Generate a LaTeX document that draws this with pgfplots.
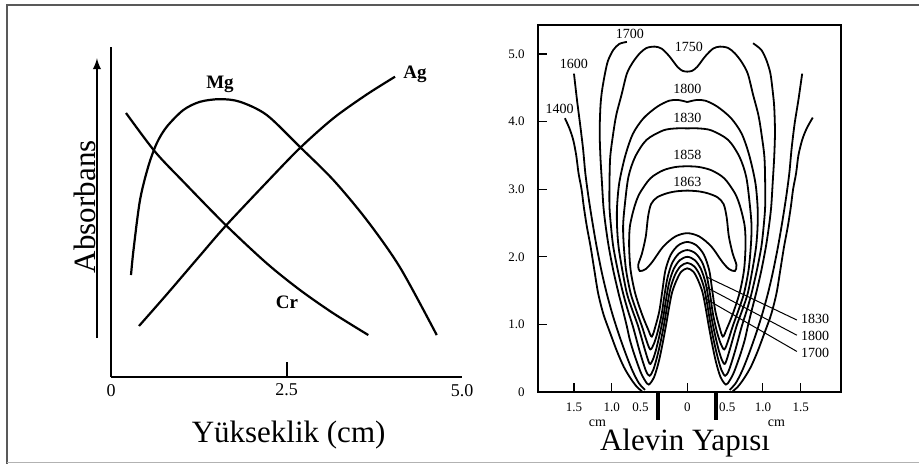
\documentclass[border=0pt]{standalone}
\usepackage{fontspec}
\setmainfont{Liberation Serif}
\usepackage{pgfplots}
\pgfplotsset{compat=1.18}

\pgfplotsset{
  contour/.style={black, line width=0.9pt, smooth, no markers},
  curve/.style={black, line width=1.1pt, smooth, no markers},
}

\begin{document}
\begin{tikzpicture}
\path[use as bounding box] (0,0) rectangle (459.5pt,-232pt);
\draw[line width=1.1pt, black!65] (3.4pt,-232pt) -- (3.4pt,-2.5pt) -- (459.5pt,-2.5pt);
\draw[line width=0.8pt, black!30] (3.4pt,-231.2pt) -- (459.5pt,-231.2pt);

% ---------- left: absorbance vs height
\begin{axis}[
  at={(55.5pt,-188.5pt)}, anchor=south west,
  width=175.5pt, height=165pt, scale only axis,
  xmin=0, xmax=5, ymin=0, ymax=5,
  axis x line=bottom, axis y line=left,
  axis line style={-, line width=1.1pt},
  xtick={2.5}, xticklabels={2.5},
  extra x ticks={0,5}, extra x tick labels={0,5.0},
  extra x tick style={major tick length=0pt},
  ytick=\empty,
  tick align=inside, major tick length=7.5pt,
  tick style={line width=1pt, black},
  ticklabel style={font=\fontsize{9}{9}\selectfont},
  /pgf/number format/assume math mode=true,
  clip=false,
]
% Mg
\addplot[curve] coordinates {
  (0.285,1.545) (0.32,1.92) (0.413,2.68) (0.531,3.19) (0.651,3.54) (0.793,3.79)
  (1.03,4.045) (1.268,4.17) (1.553,4.21) (1.838,4.17) (2.218,3.97) (2.692,3.485)
  (3.167,2.985) (3.642,2.38) (4.117,1.66) (4.64,0.636)
};
% Ag
\addplot[curve] coordinates {
  (0.399,0.773) (0.793,1.25) (1.268,1.84) (1.634,2.29) (2.218,2.95)
  (2.692,3.47) (3.167,3.92) (3.642,4.28) (4.046,4.55)
};
% Cr
\addplot[curve] coordinates {
  (0.214,4.0) (0.627,3.414) (1.03,2.96) (1.634,2.303) (2.218,1.723)
  (2.692,1.318) (3.167,0.965) (3.665,0.636)
};
\node[font=\bfseries\fontsize{9.5}{9.5}\selectfont] at (axis cs:1.553,4.44) {Mg};
\node[font=\bfseries\fontsize{9.5}{9.5}\selectfont] at (axis cs:4.33,4.59) {Ag};
\node[font=\bfseries\fontsize{9.5}{9.5}\selectfont] at (axis cs:2.507,1.136) {Cr};
% absorbance arrow
\draw[-latex, line width=0.9pt] (axis cs:-0.2,0.59) -- (axis cs:-0.2,4.83);
\node[rotate=90, anchor=south, inner sep=0.6pt, font=\fontsize{15.5}{15.5}\selectfont]
  at (axis cs:-0.2,2.58) {Absorbans};
\node[font=\fontsize{15.5}{15.5}\selectfont] at (axis cs:2.53,-0.88) {Yükseklik (cm)};
\end{axis}

% ---------- right: flame structure (temperature contours)
\begin{axis}[
  at={(268.85pt,-196pt)}, anchor=south west,
  width=151.5pt, height=183.5pt, scale only axis,
  xmin=-1.98, xmax=2.03, ymin=0, ymax=5.43,
  axis line style={line width=0.8pt},
  tick pos=left, tick align=inside, major tick length=4.5pt,
  tick style={line width=0.6pt, black},
  xtick={-1.5,-1,0,1,1.5}, xticklabels={1.5,1.0,0,1.0,1.5},
  extra x ticks={-0.62,0.53}, extra x tick labels={0.5,0.5},
  extra x tick style={major tick length=0pt},
  ytick={0,1,2,3,4,5}, yticklabels={0,1.0,2.0,3.0,4.0,5.0},
  ticklabel style={font=\fontsize{6.5}{6.5}\selectfont},
  yticklabel style={xshift=-3pt},
  xticklabel style={yshift=-2pt},
  /pgf/number format/assume math mode=true,
  clip=false,
]
% 1400
\addplot[contour] coordinates {
  (-1.62,4.05) (-1.56,3.90) (-1.51,3.73) (-1.47,3.50) (-1.44,3.24) (-1.40,3.00)
  (-1.37,2.74) (-1.33,2.45) (-1.28,2.15) (-1.23,1.80) (-1.18,1.46) (-1.11,1.15)
  (-1.02,0.87) (-0.93,0.60) (-0.84,0.37) (-0.75,0.20) (-0.67,0.08) (-0.60,0.01)
};
\addplot[contour] coordinates {
  (1.66,4.06) (1.58,3.90) (1.52,3.73) (1.47,3.50) (1.44,3.24) (1.40,3.00)
  (1.37,2.74) (1.33,2.45) (1.28,2.15) (1.23,1.80) (1.18,1.46) (1.11,1.15)
  (1.02,0.87) (0.93,0.60) (0.84,0.37) (0.75,0.20) (0.67,0.08) (0.60,0.01)
};
% 1600
\addplot[contour] coordinates {
  (-1.50,4.71) (-1.46,4.32) (-1.42,3.97) (-1.38,3.60) (-1.35,3.24) (-1.31,2.90)
  (-1.26,2.54) (-1.20,2.15) (-1.13,1.76) (-1.06,1.43) (-0.98,1.11) (-0.89,0.80)
  (-0.80,0.52) (-0.72,0.30) (-0.64,0.13) (-0.56,0.03)
};
\addplot[contour] coordinates {
  (1.52,4.71) (1.47,4.32) (1.42,3.97) (1.38,3.60) (1.35,3.24) (1.31,2.90)
  (1.26,2.54) (1.20,2.15) (1.13,1.76) (1.06,1.43) (0.98,1.11) (0.89,0.80)
  (0.80,0.52) (0.72,0.30) (0.64,0.13) (0.56,0.03)
};
% 1700
\addplot[contour] coordinates {
  (-0.80,5.18) (-0.90,5.15) (-0.98,5.06) (-1.05,4.90) (-1.09,4.71) (-1.13,4.45)
  (-1.15,4.22) (-1.16,3.85) (-1.15,3.48) (-1.13,3.10) (-1.11,2.74) (-1.08,2.45)
  (-1.04,2.15) (-0.98,1.80) (-0.91,1.46) (-0.85,1.20) (-0.80,0.97) (-0.76,0.77)
  (-0.70,0.55) (-0.62,0.30) (-0.56,0.17) (-0.51,0.11) (-0.44,0.22) (-0.38,0.44)
  (-0.33,0.70) (-0.28,1.00) (-0.24,1.26) (-0.20,1.48) (-0.14,1.66) (-0.08,1.78)
  (0,1.83) (0.08,1.78) (0.14,1.66) (0.20,1.48) (0.24,1.26) (0.28,1.00)
  (0.33,0.70) (0.38,0.44) (0.44,0.22) (0.51,0.11) (0.56,0.17) (0.62,0.30)
  (0.70,0.55) (0.76,0.77) (0.80,0.97) (0.85,1.20) (0.91,1.46) (0.98,1.80)
  (1.04,2.15) (1.08,2.45) (1.11,2.74) (1.13,3.10) (1.15,3.48) (1.16,3.85)
  (1.15,4.22) (1.13,4.45) (1.10,4.71) (1.05,4.90) (0.98,5.06) (0.87,5.16)
};
% 1750
\addplot[contour] coordinates {
  (0,4.74) (-0.06,4.75) (-0.13,4.81) (-0.24,4.97) (-0.34,5.08) (-0.43,5.11)
  (-0.54,5.09) (-0.63,5.01) (-0.72,4.88) (-0.80,4.71) (-0.87,4.40) (-0.94,4.10)
  (-0.98,3.83) (-1.02,3.48) (-1.03,3.10) (-1.03,2.74) (-1.01,2.45) (-0.98,2.15)
  (-0.92,1.80) (-0.85,1.46) (-0.79,1.22) (-0.72,0.97) (-0.63,0.60) (-0.55,0.32)
  (-0.50,0.24) (-0.45,0.33) (-0.40,0.52) (-0.35,0.76) (-0.30,1.05) (-0.26,1.32)
  (-0.22,1.55) (-0.16,1.74) (-0.09,1.86) (0,1.91) (0.09,1.86) (0.16,1.74)
  (0.22,1.55) (0.26,1.32) (0.30,1.05) (0.35,0.76) (0.40,0.52) (0.45,0.33)
  (0.50,0.24) (0.55,0.32) (0.63,0.60) (0.72,0.97) (0.79,1.22) (0.85,1.46)
  (0.92,1.80) (0.98,2.15) (1.01,2.45) (1.03,2.74) (1.03,3.10) (1.02,3.48)
  (0.98,3.83) (0.94,4.10) (0.87,4.40) (0.80,4.71) (0.72,4.88) (0.63,5.01)
  (0.54,5.09) (0.43,5.11) (0.34,5.08) (0.24,4.97) (0.13,4.81) (0.06,4.75) (0,4.74)
};
% 1800
\addplot[contour] coordinates {
  (0,4.29) (-0.12,4.32) (-0.24,4.31) (-0.40,4.22) (-0.58,4.05) (-0.72,3.82)
  (-0.82,3.50) (-0.90,3.10) (-0.93,2.74) (-0.93,2.45) (-0.91,2.15) (-0.86,1.80)
  (-0.80,1.46) (-0.73,1.22) (-0.65,0.97) (-0.56,0.62) (-0.50,0.42) (-0.46,0.47)
  (-0.42,0.60) (-0.37,0.83) (-0.32,1.10) (-0.28,1.38) (-0.24,1.62) (-0.18,1.82)
  (-0.10,1.95) (0,2.00) (0.10,1.95) (0.18,1.82) (0.24,1.62) (0.28,1.38)
  (0.32,1.10) (0.37,0.83) (0.42,0.60) (0.46,0.47) (0.50,0.42) (0.56,0.62)
  (0.65,0.97) (0.73,1.22) (0.80,1.46) (0.86,1.80) (0.91,2.15) (0.93,2.45)
  (0.93,2.74) (0.90,3.10) (0.82,3.50) (0.72,3.82) (0.58,4.05) (0.40,4.22)
  (0.24,4.31) (0.12,4.32) (0,4.29)
};
% 1830
\addplot[contour] coordinates {
  (0,3.90) (-0.15,3.90) (-0.32,3.87) (-0.54,3.73) (-0.69,3.48) (-0.78,3.18)
  (-0.83,2.74) (-0.85,2.45) (-0.84,2.15) (-0.81,1.80) (-0.75,1.46) (-0.68,1.22)
  (-0.60,0.97) (-0.54,0.76) (-0.49,0.63) (-0.44,0.72) (-0.39,0.90) (-0.34,1.15)
  (-0.30,1.45) (-0.26,1.70) (-0.20,1.91) (-0.11,2.05) (0,2.10) (0.11,2.05)
  (0.20,1.91) (0.26,1.70) (0.30,1.45) (0.34,1.15) (0.39,0.90) (0.44,0.72)
  (0.49,0.63) (0.54,0.76) (0.60,0.97) (0.68,1.22) (0.75,1.46) (0.81,1.80)
  (0.84,2.15) (0.85,2.45) (0.83,2.74) (0.78,3.18) (0.69,3.48) (0.54,3.73)
  (0.32,3.87) (0.15,3.90) (0,3.90)
};
% 1858
\addplot[contour] coordinates {
  (0,3.34) (-0.15,3.33) (-0.32,3.28) (-0.49,3.16) (-0.63,2.94) (-0.70,2.74)
  (-0.76,2.45) (-0.77,2.15) (-0.75,1.80) (-0.69,1.46) (-0.60,1.15) (-0.52,0.93)
  (-0.47,0.82) (-0.42,0.98) (-0.37,1.20) (-0.33,1.50) (-0.29,1.80) (-0.22,2.03)
  (-0.12,2.17) (0,2.22) (0.12,2.17) (0.22,2.03) (0.29,1.80) (0.33,1.50)
  (0.37,1.20) (0.42,0.98) (0.47,0.82) (0.52,0.93) (0.60,1.15) (0.69,1.46)
  (0.75,1.80) (0.77,2.15) (0.76,2.45) (0.70,2.74) (0.63,2.94) (0.49,3.16)
  (0.32,3.28) (0.15,3.33) (0,3.34)
};
% 1863
\addplot[contour] coordinates {
  (0,2.98) (-0.14,2.97) (-0.27,2.94) (-0.40,2.88) (-0.48,2.78) (-0.52,2.59)
  (-0.55,2.30) (-0.60,2.05) (-0.65,1.88) (-0.63,1.79) (-0.55,1.82) (-0.46,1.93)
  (-0.32,2.15) (-0.16,2.30) (0,2.35) (0.16,2.30) (0.32,2.15) (0.46,1.93)
  (0.55,1.82) (0.63,1.79) (0.65,1.88) (0.60,2.05) (0.55,2.30) (0.52,2.59)
  (0.48,2.78) (0.40,2.88) (0.27,2.94) (0.14,2.97) (0,2.98)
};
% burner walls
\addplot[black, line width=2pt, no markers] coordinates {(-0.39,0) (-0.39,-0.41)};
\addplot[black, line width=2pt, no markers] coordinates {(0.38,0) (0.38,-0.41)};
% leader lines
\draw[line width=0.5pt] (axis cs:0.26,1.70) -- (axis cs:1.45,1.065);
\draw[line width=0.5pt] (axis cs:0.25,1.55) -- (axis cs:1.45,0.84);
\draw[line width=0.5pt] (axis cs:0.21,1.40) -- (axis cs:1.45,0.60);
% labels
\begin{scope}[every node/.style={font=\fontsize{7}{7}\selectfont, inner sep=0.5pt}]
\node at (axis cs:-0.76,5.30) {1700};
\node at (axis cs:0.02,5.10) {1750};
\node at (axis cs:-1.50,4.86) {1600};
\node at (axis cs:-1.69,4.19) {1400};
\node at (axis cs:0,4.48) {1800};
\node at (axis cs:0,4.06) {1830};
\node at (axis cs:0,3.51) {1858};
\node at (axis cs:0,3.11) {1863};
\node at (axis cs:1.69,1.08) {1830};
\node at (axis cs:1.69,0.83) {1800};
\node at (axis cs:1.69,0.58) {1700};
\node at (axis cs:-1.19,-0.46) {cm};
\node at (axis cs:1.18,-0.46) {cm};
\end{scope}
\node[font=\fontsize{15.5}{15.5}\selectfont] at (axis cs:-0.03,-0.75) {Alevin Yapısı};
\end{axis}
\end{tikzpicture}
\end{document}
